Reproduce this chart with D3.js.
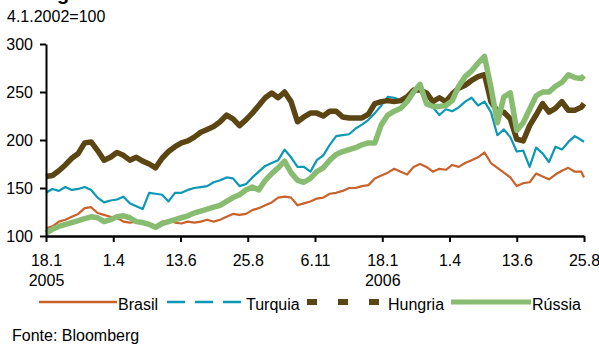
<!DOCTYPE html>
<html>
<head>
<meta charset="utf-8">
<script src="https://cdn.jsdelivr.net/npm/d3@7"></script>
<style>
  body { margin: 0; background: #fff; }
  svg { display: block; }
  text { font-family: "Liberation Sans", Arial, sans-serif; fill: #000; }
</style>
</head>
<body>
<svg id="chart" width="599" height="345"></svg>
<script>
// Weekly index levels (4.1.2002 = 100), from 18.1.2005 to 25.8.2006
const startDate = "2005-01-18";
const endDate = "2006-08-25";

const brasil = [108,110,115,117,120,123,129,130,124,122,120,119,115,114,115,114,113,111,115,116,
  114,113,115,114,115,117,115,117,120,123,122,123,127,129,132,135,140,141,140,132,
  134,136,139,140,144,145,147,150,150,152,153,160,163,166,170,167,164,172,175,172,
  167,170,169,174,172,176,179,182,187,176,171,166,161,152,155,156,165,162,159,164,
  168,171,167,167,161];

const turquia = [145,149,147,151,148,149,151,148,140,135,137,138,141,134,131,128,145,144,143,136,
  145,145,148,150,151,152,156,158,161,160,152,154,161,167,173,176,179,190,182,172,
  172,167,179,184,195,204,205,206,212,216,221,228,236,245,244,241,245,249,252,236,
  234,226,232,230,234,240,244,236,240,229,205,211,203,188,189,172,192,186,177,193,
  190,198,204,200,198];

const hungria = [162,163,168,174,181,186,197,198,189,179,182,187,184,179,182,178,175,171,181,188,
  193,197,199,203,208,211,214,219,226,222,215,221,228,236,244,249,244,250,240,219,
  224,228,228,225,230,230,224,223,223,223,227,238,240,241,240,241,245,252,252,249,
  240,244,240,248,254,257,262,266,268,240,230,229,222,201,199,215,226,238,229,233,
  240,231,231,234,238];

const russia = [103,107,110,112,114,116,118,120,119,115,117,120,121,119,115,114,112,109,113,115,
  117,119,121,124,126,128,130,132,136,140,143,148,151,148,158,165,171,178,166,158,
  156,160,167,171,179,185,188,190,192,195,197,197,216,226,230,233,240,250,258,238,
  235,235,236,241,256,266,272,280,287,255,218,245,249,210,218,232,246,250,250,256,
  260,268,265,264,267];

const seriesNames = ["Brasil", "Turquia", "Hungria", "Rússia"];
const seriesValues = [brasil, turquia, hungria, russia];
const seriesColors = ["#c9612b", "#0a98b5", "#5b4512", "#88bd71"];
const seriesWidths = [2.2, 2.2, 5.5, 5.5];

const tickDates = ["2005-01-18","2005-04-01","2005-06-13","2005-08-25","2005-11-06",
  "2006-01-18","2006-04-01","2006-06-13","2006-08-25"];
const tickLabels = ["18.1","1.4","13.6","25.8","6.11","18.1","1.4","13.6","25.8"];
const tickYears = ["2005","","","","","2006","","",""];
const yTicks = [100, 150, 200, 250, 300];

const parse = d3.timeParse("%Y-%m-%d");
const t0 = parse(startDate), t1 = parse(endDate);
// one date per week, last sample on the final day
const dates = brasil.map((_, i) => i < brasil.length - 1 ? d3.timeDay.offset(t0, 7 * i) : t1);

const svg = d3.select("#chart");
const x = d3.scaleTime().domain([t0, t1]).range([46, 584]);
const y = d3.scaleLinear().domain([100, 300]).range([236, 44]);
const FS = 16;

// title (runs off the top edge) and base note
svg.append("text").attr("x", 7).attr("y", 0)
  .attr("font-size", 20).attr("font-weight", "bold").text("Emergentes");
svg.append("text").attr("x", 7).attr("y", 22)
  .attr("font-size", FS).text("4.1.2002=100");

// lines
const line = d3.line().x((d, i) => x(dates[i])).y(d => y(d));
seriesValues.forEach((vals, k) => {
  svg.append("path").datum(vals)
    .attr("d", line)
    .attr("fill", "none")
    .attr("stroke", seriesColors[k])
    .attr("stroke-width", seriesWidths[k])
    .attr("stroke-linejoin", "round");
});

// y axis
const yAxis = svg.append("g").attr("transform", "translate(46,0)")
  .call(d3.axisLeft(y).tickValues(yTicks).tickSize(6).tickSizeOuter(0).tickPadding(7));
yAxis.attr("font-family", null).attr("font-size", FS);
yAxis.select(".domain").attr("stroke", "#000").attr("stroke-width", 2);
yAxis.selectAll(".tick line").attr("stroke", "#000").attr("stroke-width", 2);
yAxis.selectAll(".tick text").attr("dy", "0.36em");

// x axis
const tickDateObjs = tickDates.map(parse);
const xAxis = svg.append("g").attr("transform", "translate(0,236)")
  .call(d3.axisBottom(x).tickValues(tickDateObjs).tickSize(6).tickSizeOuter(0)
    .tickFormat((d, i) => tickLabels[i]).tickPadding(13));
xAxis.attr("font-family", null).attr("font-size", FS);
xAxis.select(".domain").attr("stroke", "#000").attr("stroke-width", 2.5);
xAxis.selectAll(".tick line").attr("stroke", "#000").attr("stroke-width", 2);
xAxis.selectAll(".tick").each(function (d, i) {
  if (tickYears[i]) {
    d3.select(this).append("text")
      .attr("y", 39).attr("dy", "0.71em")
      .attr("fill", "#000").attr("text-anchor", "middle")
      .text(tickYears[i]);
  }
});

// legend
const legend = [
  { x1: 39, x2: 117, tx: 118, dash: null },
  { x1: 167, x2: 241, tx: 246, dash: "18,10" },
  { x1: 307, x2: 380, tx: 388, dash: "10,21" },
  { x1: 451, x2: 531, tx: 532, dash: null }
];
const legendWidths = [2.5, 2.5, 6, 5];
const lg = svg.append("g");
legend.forEach((L, k) => {
  lg.append("line").attr("x1", L.x1).attr("x2", L.x2).attr("y1", 302).attr("y2", 302)
    .attr("stroke", seriesColors[k]).attr("stroke-width", legendWidths[k])
    .attr("stroke-dasharray", L.dash);
  lg.append("text").attr("x", L.tx).attr("y", 310).attr("font-size", FS).text(seriesNames[k]);
});

svg.append("text").attr("x", 12).attr("y", 341).attr("font-size", FS).text("Fonte: Bloomberg");
</script>
</body>
</html>
